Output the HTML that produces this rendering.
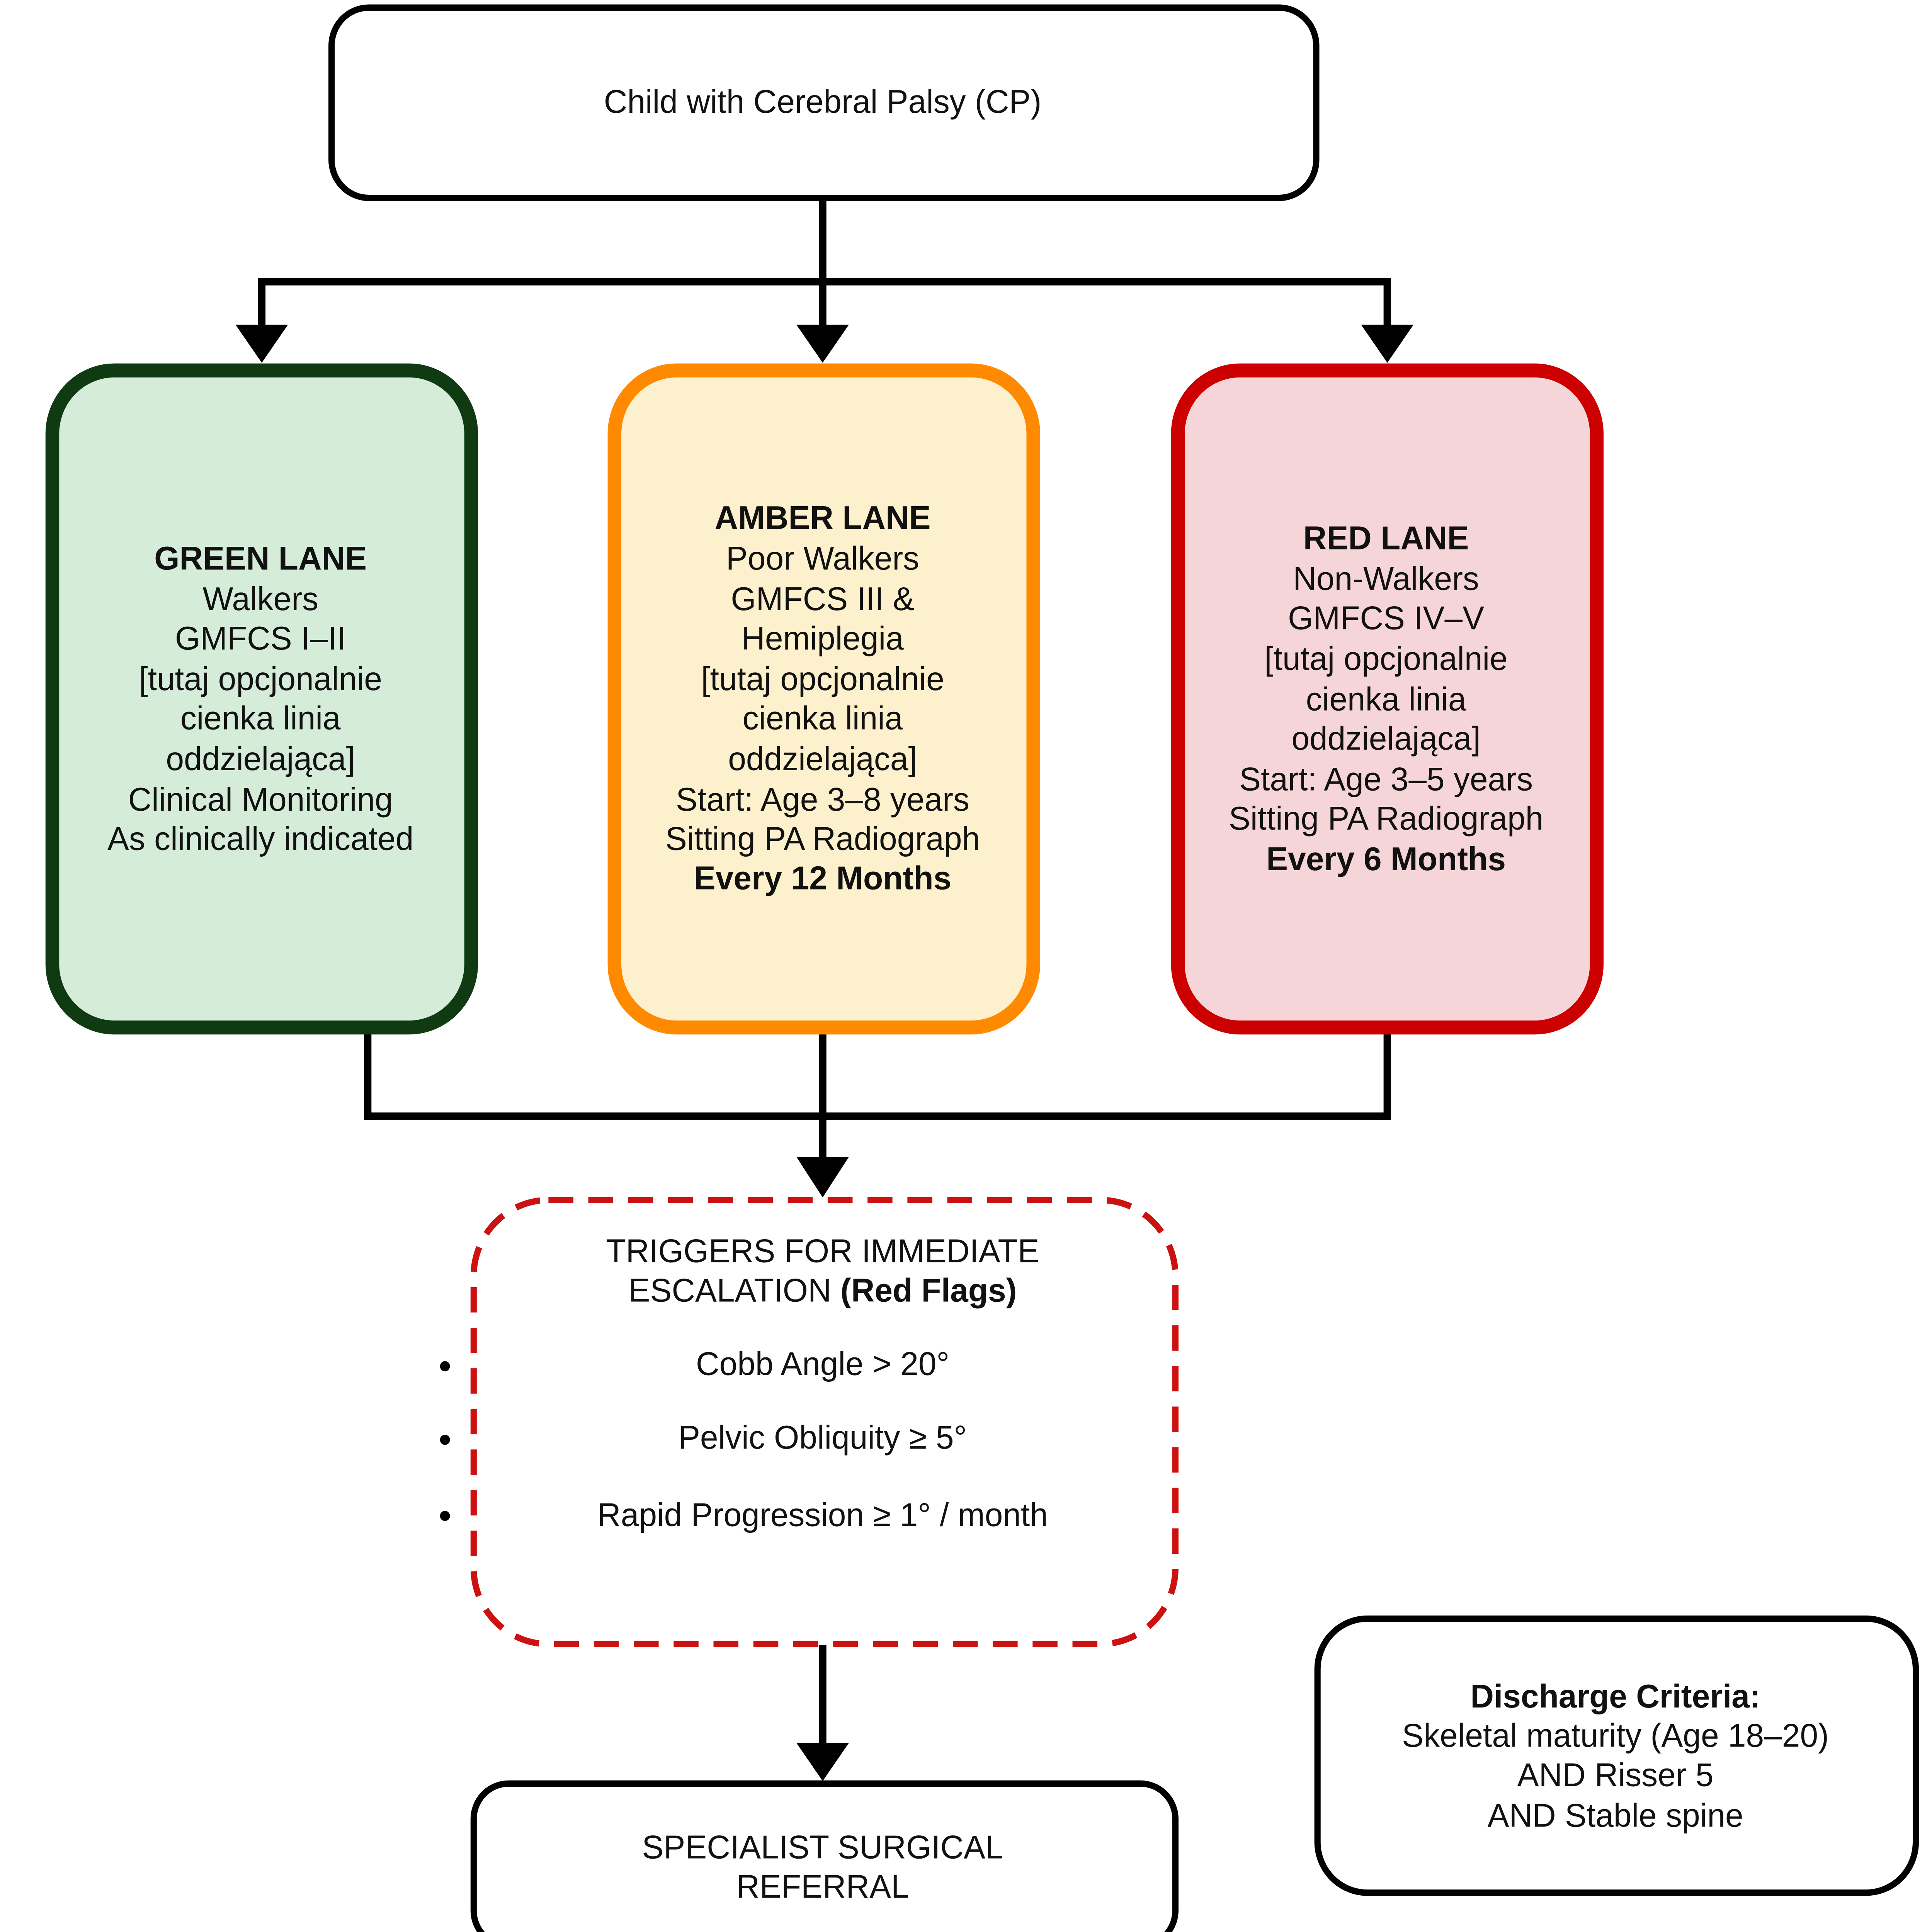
<!DOCTYPE html>
<html><head><meta charset="utf-8"><style>
html,body{margin:0;padding:0;background:#fff;width:100vw;height:100vh;overflow:hidden;}
svg{display:block;position:fixed;left:0;top:0;width:100vw;height:100vh;}
text{font-family:"Liberation Sans",Arial,sans-serif;fill:#111;}
</style></head><body>
<svg viewBox="0 0 1550 1523" preserveAspectRatio="none" xmlns="http://www.w3.org/2000/svg">
<rect x="266" y="6" width="790" height="150" rx="30" fill="#fff" stroke="#000" stroke-width="5"/>
<text x="660" y="89" font-size="26" text-anchor="middle">Child with Cerebral Palsy (CP)</text>
<g stroke="#000" stroke-width="6" fill="none">
<path d="M660 157 V258"/>
<path d="M210 258 V222 H1113 V258"/>
<path d="M295 813 V880 H1113 V813"/>
<path d="M660 813 V915"/>
<path d="M660 1297 V1378"/>
</g>
<g fill="#000">
<polygon points="189,256 231,256 210,286"/>
<polygon points="639,256 681,256 660,286"/>
<polygon points="1092,256 1134,256 1113,286"/>
<polygon points="639,912 681,912 660,944"/>
<polygon points="639,1374 681,1374 660,1404"/>
</g>
<rect x="42" y="292" width="336" height="518" rx="50" fill="#d5ecd9" stroke="#0f3a12" stroke-width="11"/>
<rect x="493" y="292" width="336" height="518" rx="50" fill="#fdf0cc" stroke="#ff8a00" stroke-width="11"/>
<rect x="945" y="292" width="336" height="518" rx="50" fill="#f6d5d9" stroke="#cc0000" stroke-width="11"/>
<g font-size="26" text-anchor="middle">
<text x="209" y="449" font-weight="bold">GREEN LANE</text>
<text x="209" y="481">Walkers</text>
<text x="209" y="512">GMFCS I–II</text>
<text x="209" y="544">[tutaj opcjonalnie</text>
<text x="209" y="575">cienka linia</text>
<text x="209" y="607">oddzielająca]</text>
<text x="209" y="639">Clinical Monitoring</text>
<text x="209" y="670">As clinically indicated</text>

<text x="660" y="417" font-weight="bold">AMBER LANE</text>
<text x="660" y="449">Poor Walkers</text>
<text x="660" y="481">GMFCS III &amp;</text>
<text x="660" y="512">Hemiplegia</text>
<text x="660" y="544">[tutaj opcjonalnie</text>
<text x="660" y="575">cienka linia</text>
<text x="660" y="607">oddzielająca]</text>
<text x="660" y="639">Start: Age 3–8 years</text>
<text x="660" y="670">Sitting PA Radiograph</text>
<text x="660" y="701" font-weight="bold">Every 12 Months</text>

<text x="1112" y="433" font-weight="bold">RED LANE</text>
<text x="1112" y="465">Non-Walkers</text>
<text x="1112" y="496">GMFCS IV–V</text>
<text x="1112" y="528">[tutaj opcjonalnie</text>
<text x="1112" y="560">cienka linia</text>
<text x="1112" y="591">oddzielająca]</text>
<text x="1112" y="623">Start: Age 3–5 years</text>
<text x="1112" y="654">Sitting PA Radiograph</text>
<text x="1112" y="686" font-weight="bold">Every 6 Months</text>
</g>
<rect x="380" y="946" width="563" height="350" rx="60" fill="#fff" stroke="#cc1111" stroke-width="5" stroke-dasharray="20 12"/>
<g font-size="26" text-anchor="middle">
<text x="660" y="995">TRIGGERS FOR IMMEDIATE</text>
<text x="660" y="1026">ESCALATION <tspan font-weight="bold">(Red Flags)</tspan></text>
<text x="660" y="1084">Cobb Angle &gt; 20°</text>
<text x="660" y="1142">Pelvic Obliquity ≥ 5°</text>
<text x="660" y="1203">Rapid Progression ≥ 1° / month</text>
</g>
<g fill="#000"><circle cx="357" cy="1077" r="4"/><circle cx="357" cy="1135" r="4"/><circle cx="357" cy="1195" r="4"/></g>
<rect x="380" y="1406" width="563" height="128" rx="28" fill="#fff" stroke="#000" stroke-width="5"/>
<g font-size="26" text-anchor="middle">
<text x="660" y="1465">SPECIALIST SURGICAL</text>
<text x="660" y="1496">REFERRAL</text>
</g>
<rect x="1057" y="1276" width="480" height="216" rx="40" fill="#fff" stroke="#000" stroke-width="5"/>
<g font-size="26" text-anchor="middle">
<text x="1296" y="1346" font-weight="bold">Discharge Criteria:</text>
<text x="1296" y="1377">Skeletal maturity (Age 18–20)</text>
<text x="1296" y="1408">AND Risser 5</text>
<text x="1296" y="1440">AND Stable spine</text>
</g>
</svg>
</body></html>
